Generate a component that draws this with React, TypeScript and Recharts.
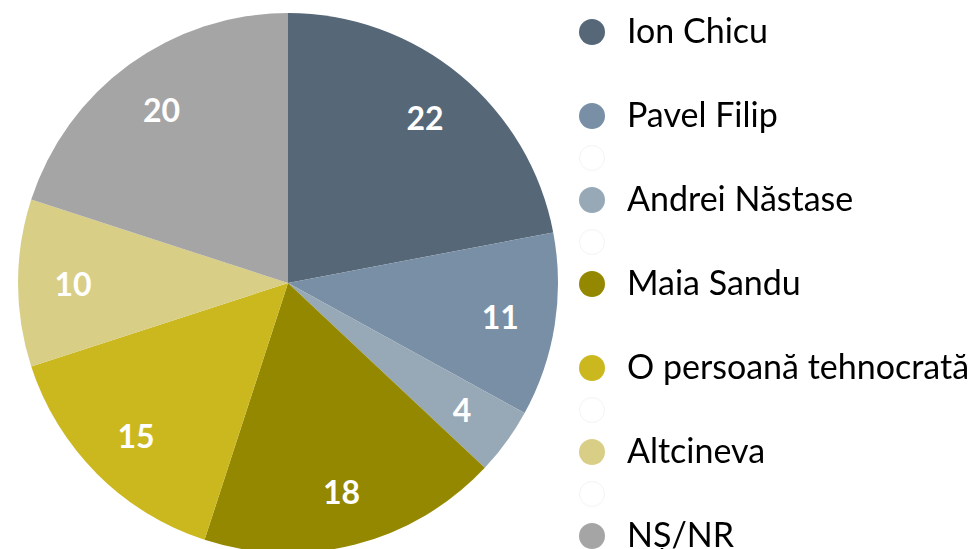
import { Cell, Legend, Pie, PieChart } from 'recharts';

const categories = [
  'Ion Chicu',
  'Pavel Filip',
  'Andrei Năstase',
  'Maia Sandu',
  'O persoană tehnocrată',
  'Altcineva',
  'NȘ/NR',
];
const values = [22, 11, 4, 18, 15, 10, 20];
const colors = ['#566778', '#788fa5', '#97a9b7', '#948800', '#cbb81f', '#d9ce85', '#a5a5a5'];

// legend rows: a name, 'ghost' for an empty marker, null for a blank row
const legendRows: (string | null)[] = [
  'Ion Chicu',
  null,
  'Pavel Filip',
  'ghost',
  'Andrei Năstase',
  'ghost',
  'Maia Sandu',
  null,
  'O persoană tehnocrată',
  'ghost',
  'Altcineva',
  'ghost',
  'NȘ/NR',
];

const data = categories.map((name, i) => ({ name, value: values[i] }));

const RADIAN = Math.PI / 180;

const renderLabel = (props: any) => {
  const { cx, cy, midAngle, value } = props;
  const r = 215;
  const x = cx + r * Math.cos(-midAngle * RADIAN);
  const y = cy + r * Math.sin(-midAngle * RADIAN);
  return (
    <text
      x={x}
      y={y}
      fill="#ffffff"
      textAnchor="middle"
      dominantBaseline="central"
      fontFamily="Lato"
      fontWeight={700}
      fontSize={32}
    >
      {value}
    </text>
  );
};

const LegendContent = () => (
  <div style={{ fontFamily: 'Lato', fontSize: 34, color: '#000' }}>
    {legendRows.map((row, i) => (
      <div key={i} style={{ height: 42, display: 'flex', alignItems: 'center' }}>
        {row === 'ghost' ? (
          <div
            style={{
              width: 24,
              height: 24,
              borderRadius: '50%',
              border: '1px solid #f3f3f3',
              background: '#fff',
            }}
          />
        ) : row ? (
          <>
            <div
              style={{
                width: 26,
                height: 26,
                borderRadius: '50%',
                background: colors[categories.indexOf(row)],
              }}
            />
            <span style={{ marginLeft: 22, whiteSpace: 'nowrap', lineHeight: '42px', marginTop: -4 }}>
              {row}
            </span>
          </>
        ) : null}
      </div>
    ))}
  </div>
);

export default function App() {
  return (
    <div style={{ position: 'fixed', left: 0, top: 0, width: 978, height: 549, background: '#fff' }}>
      <PieChart width={978} height={549} margin={{ top: 0, right: 0, bottom: 0, left: 0 }}>
        <Pie
          data={data}
          dataKey="value"
          nameKey="name"
          cx={288}
          cy={283}
          outerRadius={270}
          startAngle={90}
          endAngle={-270}
          stroke="none"
          label={renderLabel}
          labelLine={false}
          isAnimationActive={false}
        >
          {data.map((d, i) => (
            <Cell key={d.name} fill={colors[i]} />
          ))}
        </Pie>
        <Legend
          content={<LegendContent />}
          wrapperStyle={{ position: 'absolute', left: 579, top: 11, width: 399 }}
        />
      </PieChart>
    </div>
  );
}
